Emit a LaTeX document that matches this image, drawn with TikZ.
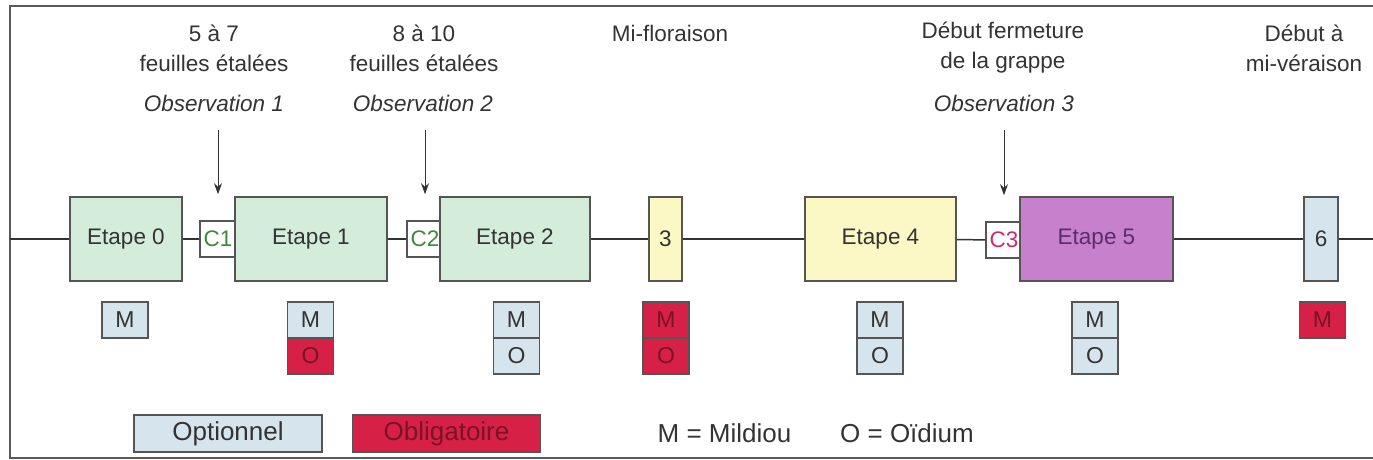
\documentclass[tikz,border=0pt]{standalone}
\usepackage{fontspec}
\setmainfont{Liberation Sans}
\usetikzlibrary{arrows.meta}
\definecolor{frameline}{HTML}{5A5A5A}
\definecolor{boxline}{HTML}{555555}
\definecolor{txt}{HTML}{333333}
\definecolor{stagegreen}{RGB}{212,236,218}
\definecolor{stageyellow}{RGB}{252,248,198}
\definecolor{stagepurple}{RGB}{198,128,204}
\definecolor{purpletxt}{HTML}{5B2D6B}
\definecolor{optblue}{RGB}{214,228,238}
\definecolor{oblred}{RGB}{214,32,70}
\definecolor{obltxt}{HTML}{7A1424}
\definecolor{cgreen}{HTML}{3C8A3C}
\definecolor{cred}{HTML}{D4286E}
\begin{document}
\begin{tikzpicture}[x=0.5pt,y=-0.5pt,
  stage/.style={draw=boxline, line width=0.8pt, minimum height=42pt, inner sep=0pt,
    font=\fontsize{11.25}{13}\selectfont, text=txt},
  cbox/.style={draw=boxline, fill=white, line width=0.8pt, minimum width=18pt,
    minimum height=18pt, inner sep=0pt, font=\fontsize{11.25}{13}\selectfont},
  cell/.style={draw=boxline, line width=0.7pt, minimum width=23pt, minimum height=18pt,
    inner sep=0pt, font=\fontsize{11.5}{13}\selectfont},
  opt/.style={cell, fill=optblue, text=txt},
  obl/.style={cell, fill=oblred, text=obltxt},
  lbl/.style={align=center, text=txt, font=\fontsize{11.25}{15}\selectfont},
  obs/.style={text=txt, font=\fontsize{11.25}{15}\selectfont\itshape},
  leg/.style={text=txt, font=\fontsize{13}{15}\selectfont},
  legbox/.style={draw=boxline, line width=0.8pt, minimum width=94pt, minimum height=18.5pt,
    inner sep=0pt, font=\fontsize{13}{15}\selectfont},
  mainline/.style={draw=txt, line width=0.75pt},
  arr/.style={draw=txt, line width=0.5pt, -{Stealth[length=5.5pt,width=4pt]}}
]
\useasboundingbox (0,0) rectangle (1373,460);
% frame
\draw[frameline, line width=1pt] (1373,6) -- (10,6) -- (10,458) -- (1373,458);

% top labels
\node[lbl] (t1) at (214,48) {5 à 7\\feuilles étalées};
\node[obs] (obs1) at (214,103) {Observation 1};
\node[lbl] (t2) at (424,48) {8 à 10\\feuilles étalées};
\node[obs] (obs2) at (423,103) {Observation 2};
\node[lbl] (t3) at (670,33) {Mi-floraison};
\node[lbl] (t5) at (1003,48) {Début fermeture\\de la grappe};
\node[obs] (obs3) at (1004,103) {Observation 3};
\node[lbl] (t6) at (1304,48) {Début à\\mi-véraison};

% line ends
\coordinate (L) at (10,239);
\coordinate (R) at (1373,239);

% C boxes (under stages)
\node[cbox, text=cgreen] (c1) at (218,239) {C1\hspace{2pt}};
\node[cbox, text=cgreen] (c2) at (425,239) {C2\hspace{2pt}};
\node[cbox, text=cred] (c3) at (1004,240) {C3\hspace{2pt}};

% stages
\node[stage, fill=stagegreen, minimum width=56pt] (e0) at (126,239) {Etape 0};
\node[stage, fill=stagegreen, minimum width=76pt] (e1) at (311,239) {Etape 1};
\node[stage, fill=stagegreen, minimum width=75pt] (e2) at (515,239) {Etape 2};
\node[stage, fill=stageyellow, minimum width=16.5pt] (s3) at (665.5,239) {3};
\node[stage, fill=stageyellow, minimum width=75.5pt] (e4) at (880.5,239) {Etape 4};
\node[stage, fill=stagepurple, text=purpletxt, minimum width=76.5pt] (e5) at (1096.5,239) {Etape 5};
\node[stage, fill=optblue, minimum width=17pt] (s6) at (1321,239) {6};

% main line
\draw[mainline] (L) -- (e0);
\draw[mainline] (e0) -- (c1);
\draw[mainline] (e1) -- (c2);
\draw[mainline] (e2) -- (s3);
\draw[mainline] (s3) -- (e4);
\draw[mainline] (e4) -- (c3);
\draw[mainline] (e5) -- (s6);
\draw[mainline] (s6) -- (R);

% observation arrows
\draw[arr, shorten <=6pt, shorten >=13pt] (c1.north |- obs1.south) -- (c1.north);
\draw[arr, shorten <=6pt, shorten >=13pt] (c2.north |- obs2.south) -- (c2.north);
\draw[arr, shorten <=6pt, shorten >=13pt] (c3.north |- obs3.south) -- (c3.north);

% M / O cells
\node[opt] (m0) at (125,320) {M};
\node[opt] (m1) at (310.5,320) {M};
\node[obl] (o1) at (310.5,356) {O};
\node[opt] (m2) at (516.5,320) {M};
\node[opt] (o2) at (516.5,356) {O};
\node[obl] (m3) at (666,320) {M};
\node[obl] (o3) at (666,356) {O};
\node[opt] (m4) at (880,320) {M};
\node[opt] (o4) at (880,356) {O};
\node[opt] (m5) at (1095,320) {M};
\node[opt] (o5) at (1095,356) {O};
\node[obl] (m6) at (1322.5,320) {M};

% legend
\node[legbox, fill=optblue, text=txt] (lopt) at (228,433.5) {Optionnel};
\node[legbox, fill=oblred, text=obltxt] (lobl) at (446.5,433.5) {Obligatoire};
\node[leg] (lm) at (724.5,433) {M = Mildiou};
\node[leg] (lo) at (907,433) {O = Oïdium};
\end{tikzpicture}
\end{document}
